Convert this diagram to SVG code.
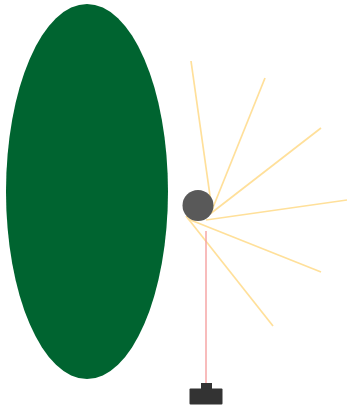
<svg xmlns="http://www.w3.org/2000/svg" width="347" height="408" viewBox="0 0 347 408">
<style>
.ray{stroke:#ffe09a;stroke-width:1.7;fill:none}
.beam{stroke:#f5a0a0;stroke-width:1.4;fill:none}
</style>
<rect width="347" height="408" fill="#ffffff"/>
<g id="leaf"><ellipse cx="87" cy="191.5" rx="81" ry="187.5" fill="#006430"/></g>
<g id="connectors">
<line class="ray" x1="191" y1="61" x2="212" y2="210"/>
<line class="ray" x1="265" y1="78" x2="212" y2="210"/>
<line class="ray" x1="321" y1="128" x2="210" y2="214"/>
<line class="ray" x1="347" y1="200" x2="206" y2="220"/>
<line class="ray" x1="321" y1="272" x2="188" y2="219"/>
<line class="ray" x1="273" y1="326" x2="186" y2="216"/>
<line class="beam" x1="206" y1="231" x2="206" y2="383"/>
</g>
<g id="ball"><circle cx="198" cy="205.5" r="15.5" fill="#595959"/></g>
<g id="camera" fill="#333333">
<rect x="201" y="383" width="11" height="6"/>
<rect x="189.5" y="388.5" width="33" height="16" rx="1"/>
</g>
</svg>
